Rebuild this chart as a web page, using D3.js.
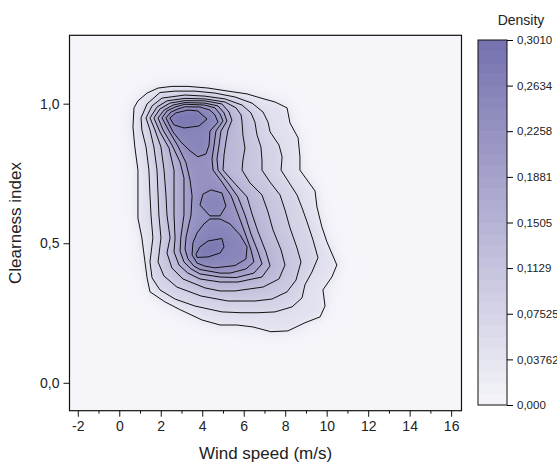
<!DOCTYPE html>
<html>
<head>
<meta charset="utf-8">
<script src="https://cdn.jsdelivr.net/npm/d3@7"></script>
<style>
body { margin: 0; background: #fff; }
text { font-family: "Liberation Sans", Arial, sans-serif; fill: #222; }
</style>
</head>
<body>
<div id="chart"></div>
<script>
var w = 557;
var h = 466;
var margin = {left: 69.5, right: 461.5, top: 35.3, bottom: 410.7};

// axis ticks
var xTicks = [-2, 0, 2, 4, 6, 8, 10, 12, 14, 16];
var xMinor = [-1, 1, 3, 5, 7, 9, 11, 13, 15];
var yTicks = [0, 0.5, 1.0];
var yTickLabels = ["0,0", "0,5", "1,0"];

// colour bar
var cbValues = [0, 0.03762, 0.07525, 0.1129, 0.1505, 0.1881, 0.2258, 0.2634, 0.3010];
var cbLabels = ["0,000", "0,03762", "0,07525", "0,1129", "0,1505", "0,1881", "0,2258", "0,2634", "0,3010"];
var densityMax = 0.301;

// contour levels (density) for each traced line
var levels = [0.0301, 0.0602, 0.0903, 0.1204, 0.1505, 0.1806, 0.2107, 0.2408, 0.2709];

// contour lines: [wind speed, clearness index]
var contour1 = [[0.71,0.985],[0.90,1.010],[1.34,1.038],[1.87,1.056],[2.54,1.062],[3.31,1.062],[4.28,1.056],[5.24,1.045],[6.16,1.035],[6.88,1.019],[7.51,1.006],[8.09,0.985],[8.23,0.931],[8.62,0.878],[8.71,0.810],[8.71,0.762],[9.44,0.687],[9.53,0.630],[9.77,0.558],[10.01,0.505],[10.49,0.422],[10.25,0.379],[9.82,0.333],[9.92,0.275],[9.68,0.236],[8.95,0.215],[8.13,0.186],[7.31,0.183],[6.45,0.200],[5.68,0.207],[4.86,0.207],[3.99,0.225],[2.96,0.261],[2.20,0.290],[1.48,0.326],[1.34,0.376],[1.24,0.433],[1.09,0.519],[0.90,0.590],[0.90,0.673],[0.90,0.762],[0.75,0.845],[0.66,0.917]];
var contour2 = [[1.05,0.949],[1.34,0.999],[1.96,1.040],[2.69,1.045],[3.65,1.045],[4.61,1.038],[5.58,1.024],[6.40,1.002],[6.93,0.970],[7.17,0.934],[7.27,0.899],[7.70,0.852],[7.85,0.810],[7.80,0.762],[8.23,0.712],[8.57,0.673],[8.81,0.627],[9.05,0.577],[9.34,0.512],[9.58,0.448],[9.29,0.397],[8.95,0.351],[8.81,0.304],[8.33,0.272],[7.51,0.254],[6.69,0.251],[5.87,0.251],[4.95,0.254],[3.65,0.275],[2.69,0.300],[1.96,0.333],[1.58,0.376],[1.48,0.433],[1.62,0.519],[1.53,0.601],[1.48,0.673],[1.43,0.762],[1.29,0.845],[1.09,0.906]];
var contour3 = [[1.29,0.949],[1.58,0.992],[2.06,1.020],[3.17,1.031],[4.13,1.027],[5.10,1.017],[5.92,0.995],[6.35,0.967],[6.54,0.934],[6.64,0.888],[6.83,0.845],[6.88,0.798],[6.88,0.762],[7.27,0.719],[7.75,0.673],[7.99,0.619],[8.23,0.555],[8.57,0.483],[8.76,0.433],[8.52,0.368],[8.09,0.326],[7.36,0.300],[6.54,0.293],[5.24,0.293],[3.94,0.311],[2.78,0.343],[2.15,0.383],[1.87,0.433],[2.01,0.519],[1.91,0.601],[1.87,0.673],[1.82,0.762],[1.67,0.845],[1.48,0.906]];
var contour4 = [[1.48,0.949],[1.82,0.988],[2.30,1.010],[3.17,1.019],[4.13,1.017],[5.10,1.006],[5.63,0.985],[5.87,0.960],[5.92,0.934],[5.96,0.888],[6.06,0.841],[5.96,0.798],[5.92,0.762],[6.30,0.716],[6.88,0.673],[7.17,0.612],[7.41,0.548],[7.80,0.476],[7.99,0.422],[7.70,0.372],[6.93,0.343],[5.58,0.329],[4.86,0.329],[4.13,0.340],[3.07,0.372],[2.54,0.411],[2.30,0.465],[2.45,0.519],[2.30,0.601],[2.25,0.673],[2.16,0.762],[2.01,0.845],[1.72,0.906]];
var contour5 = [[1.67,0.949],[1.96,0.981],[2.44,1.002],[3.17,1.011],[4.13,1.010],[4.95,0.999],[5.29,0.970],[5.43,0.941],[5.24,0.906],[5.14,0.863],[5.05,0.816],[5.00,0.762],[5.63,0.709],[6.16,0.666],[6.40,0.605],[6.69,0.541],[7.07,0.469],[7.27,0.419],[6.88,0.379],[5.72,0.361],[4.86,0.361],[3.89,0.372],[3.31,0.393],[2.88,0.422],[2.64,0.469],[2.69,0.519],[2.64,0.601],[2.64,0.673],[2.64,0.762],[2.40,0.841],[1.96,0.899]];
var contour6 = [[1.87,0.949],[2.16,0.977],[2.59,0.995],[3.17,1.004],[4.13,1.002],[4.76,0.992],[5.05,0.967],[5.19,0.938],[4.90,0.902],[4.81,0.852],[4.71,0.802],[4.76,0.762],[5.24,0.716],[5.72,0.666],[6.06,0.601],[6.35,0.533],[6.69,0.469],[6.88,0.426],[6.49,0.393],[5.63,0.377],[4.86,0.379],[3.89,0.390],[3.46,0.408],[3.12,0.433],[2.93,0.472],[2.97,0.522],[3.12,0.601],[3.12,0.673],[3.12,0.734],[2.93,0.791],[2.54,0.852],[2.11,0.906]];
var contour7 = [[2.06,0.949],[2.30,0.974],[2.69,0.988],[3.17,0.998],[4.13,0.995],[4.61,0.985],[4.86,0.963],[5.00,0.938],[4.66,0.902],[4.57,0.852],[4.47,0.802],[4.52,0.762],[4.95,0.719],[5.39,0.670],[5.72,0.605],[6.06,0.537],[6.35,0.476],[6.49,0.433],[6.11,0.408],[5.34,0.393],[4.86,0.393],[3.89,0.406],[3.60,0.418],[3.31,0.444],[3.17,0.479],[3.22,0.522],[3.46,0.601],[3.51,0.670],[3.41,0.727],[3.22,0.788],[2.83,0.848],[2.40,0.902]];
var peakTop8 = [[2.25,0.949],[2.49,0.970],[2.83,0.981],[3.17,0.989],[3.89,0.988],[4.37,0.977],[4.61,0.960],[4.76,0.934],[4.37,0.902],[4.33,0.852],[4.18,0.820],[3.79,0.810],[3.41,0.831],[2.97,0.863],[2.59,0.899]];
var peakMid8 = [[3.89,0.637],[4.04,0.676],[4.42,0.691],[4.95,0.680],[5.14,0.633],[4.86,0.598],[4.37,0.598]];
var peakLow8 = [[3.51,0.458],[3.75,0.429],[4.13,0.418],[4.61,0.412],[5.58,0.420],[6.11,0.444],[6.16,0.487],[5.82,0.530],[5.34,0.569],[4.86,0.587],[4.37,0.587],[4.08,0.569],[3.75,0.537],[3.55,0.501]];
var peakTop9 = [[2.44,0.949],[2.73,0.967],[3.31,0.977],[3.79,0.974],[4.23,0.945],[3.84,0.920],[3.12,0.913],[2.64,0.924]];
var peakLow9 = [[3.70,0.461],[3.89,0.487],[4.28,0.508],[4.95,0.517],[5.05,0.487],[4.86,0.465],[4.28,0.451],[3.75,0.449]];

var contours = [
    {level: 0, pts: contour1},
    {level: 1, pts: contour2},
    {level: 2, pts: contour3},
    {level: 3, pts: contour4},
    {level: 4, pts: contour5},
    {level: 5, pts: contour6},
    {level: 6, pts: contour7},
    {level: 7, pts: peakTop8},
    {level: 7, pts: peakMid8},
    {level: 7, pts: peakLow8},
    {level: 8, pts: peakTop9},
    {level: 8, pts: peakLow9}
];

var xScale = d3.scaleLinear().domain([-2.4, 16.5]).range([margin.left, margin.right]);
var yScale = d3.scaleLinear().domain([-0.1, 1.245]).range([margin.bottom, margin.top]);
var color = d3.scaleLinear().domain([0, densityMax])
    .range(["#f5f5fa", "#7571af"]).interpolate(d3.interpolateRgb);

var svg = d3.select("#chart").append("svg")
    .attr("width", w)
    .attr("height", h);

var defs = svg.append("defs");
defs.append("clipPath").attr("id", "plotClip")
    .append("rect")
    .attr("x", margin.left).attr("y", margin.top)
    .attr("width", margin.right - margin.left)
    .attr("height", margin.bottom - margin.top);
defs.append("filter").attr("id", "soft")
    .attr("x", "-30%").attr("y", "-30%").attr("width", "160%").attr("height", "160%")
    .append("feGaussianBlur").attr("stdDeviation", 4.5);
defs.append("filter").attr("id", "halo")
    .attr("x", "-40%").attr("y", "-40%").attr("width", "180%").attr("height", "180%")
    .append("feGaussianBlur").attr("stdDeviation", 11);

// plot background = zero density
svg.append("rect")
    .attr("x", margin.left).attr("y", margin.top)
    .attr("width", margin.right - margin.left)
    .attr("height", margin.bottom - margin.top)
    .attr("fill", color(0));

var line = d3.line()
    .x(function(d) { return xScale(d[0]); })
    .y(function(d) { return yScale(d[1]); })
    .curve(d3.curveLinearClosed);

var shade = svg.append("g").attr("clip-path", "url(#plotClip)");

// faint glow outside the outer line
shade.append("path")
    .attr("d", line(contour1))
    .attr("fill", color(0.03))
    .attr("filter", "url(#halo)");

// shaded bands (blurred to look like a smooth density surface)
shade.append("g")
    .attr("filter", "url(#soft)")
    .selectAll("path")
    .data(contours)
    .enter().append("path")
    .attr("d", function(d) { return line(d.pts); })
    .attr("fill", function(d) {
        var lo = levels[d.level];
        var hi = d.level + 1 < levels.length ? levels[d.level + 1] : densityMax;
        return color((lo + hi) / 2);
    });

// contour lines
svg.append("g")
    .selectAll("path")
    .data(contours)
    .enter().append("path")
    .attr("d", function(d) { return line(d.pts); })
    .attr("fill", "none")
    .attr("stroke", "#111")
    .attr("stroke-width", 1)
    .attr("stroke-linejoin", "round");

// axes
var xAxis = d3.axisBottom(xScale)
    .tickValues(xTicks)
    .tickSize(6)
    .tickPadding(4)
    .tickFormat(function(d) { return String(d); });
var xAxisMinor = d3.axisBottom(xScale)
    .tickValues(xMinor)
    .tickSize(3)
    .tickFormat("");
var yAxis = d3.axisLeft(yScale)
    .tickValues(yTicks)
    .tickSize(6)
    .tickPadding(4)
    .tickFormat(function(d, i) { return yTickLabels[i]; });

var gx = svg.append("g")
    .attr("transform", "translate(0," + margin.bottom + ")")
    .call(xAxis);
svg.append("g")
    .attr("transform", "translate(0," + margin.bottom + ")")
    .call(xAxisMinor)
    .select(".domain").remove();
var gy = svg.append("g")
    .attr("transform", "translate(" + margin.left + ",0)")
    .call(yAxis);
gx.select(".domain").remove();
gy.select(".domain").remove();
svg.selectAll(".tick text").attr("font-size", 14).attr("fill", "#222");
svg.selectAll(".tick line").attr("stroke", "#111");

// frame
svg.append("rect")
    .attr("x", margin.left).attr("y", margin.top)
    .attr("width", margin.right - margin.left)
    .attr("height", margin.bottom - margin.top)
    .attr("fill", "none")
    .attr("stroke", "#111")
    .attr("stroke-width", 1.2);

// axis titles
svg.append("text")
    .attr("x", (margin.left + margin.right) / 2)
    .attr("y", 459)
    .attr("text-anchor", "middle")
    .attr("font-size", 17)
    .text("Wind speed (m/s)");
svg.append("text")
    .attr("transform", "translate(21," + ((margin.top + margin.bottom) / 2) + ") rotate(-90)")
    .attr("text-anchor", "middle")
    .attr("font-size", 17)
    .text("Clearness index");

// colour bar
var cbX = 478, cbW = 29;
var cbScale = d3.scaleLinear().domain([0, densityMax]).range([405, 40]);
var nBands = 32;
var bandEdges = d3.range(nBands + 1).map(function(i) { return i * densityMax / nBands; });
svg.append("g")
    .selectAll("rect")
    .data(bandEdges.slice(0, nBands))
    .enter().append("rect")
    .attr("x", cbX)
    .attr("width", cbW)
    .attr("y", function(d, i) { return cbScale(bandEdges[i + 1]); })
    .attr("height", function(d, i) { return cbScale(bandEdges[i]) - cbScale(bandEdges[i + 1]) + 0.5; })
    .attr("fill", function(d, i) { return color((bandEdges[i] + bandEdges[i + 1]) / 2); });
svg.append("rect")
    .attr("x", cbX).attr("y", cbScale(densityMax))
    .attr("width", cbW).attr("height", cbScale(0) - cbScale(densityMax))
    .attr("fill", "none").attr("stroke", "#111").attr("stroke-width", 1);

var cbAxis = d3.axisRight(cbScale)
    .tickValues(cbValues)
    .tickSize(6)
    .tickPadding(4)
    .tickFormat(function(d, i) { return cbLabels[i]; });
var gcb = svg.append("g")
    .attr("transform", "translate(" + (cbX + cbW) + ",0)")
    .call(cbAxis);
gcb.select(".domain").remove();
gcb.selectAll(".tick text").attr("font-size", 11.5);

svg.append("text")
    .attr("x", 521)
    .attr("y", 25)
    .attr("text-anchor", "middle")
    .attr("font-size", 14)
    .text("Density");
</script>
</body>
</html>
